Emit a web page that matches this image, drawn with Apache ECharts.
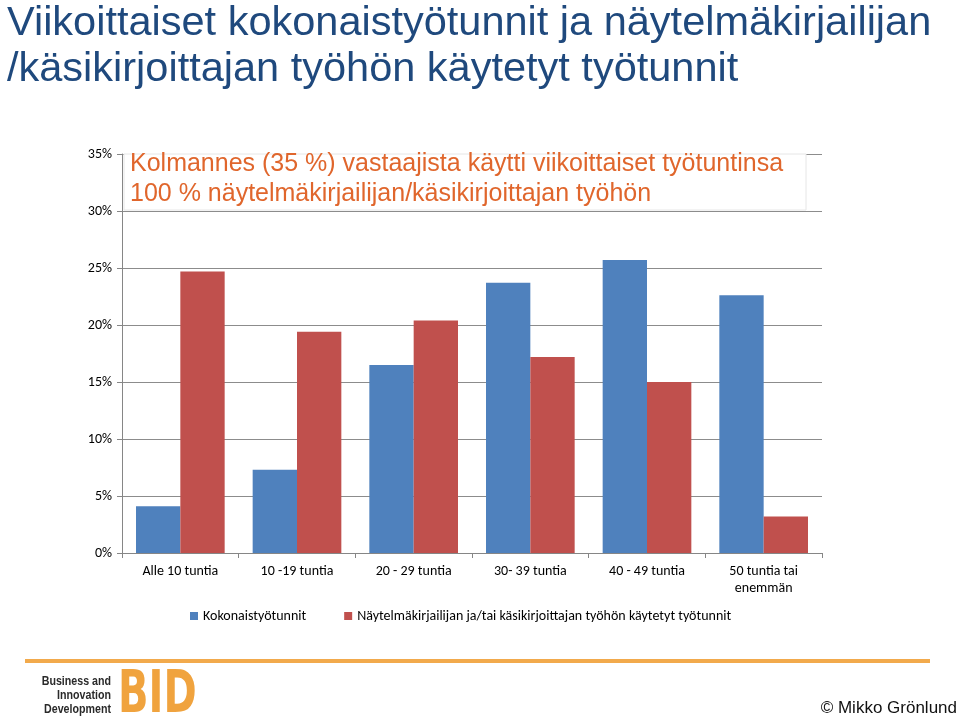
<!DOCTYPE html>
<html>
<head>
<meta charset="utf-8">
<script src="https://cdn.jsdelivr.net/npm/echarts@6/dist/echarts.min.js"></script>
<style>
html,body{margin:0;padding:0;background:#fff;}
#chart{width:960px;height:719px;}
</style>
</head>
<body>
<div id="chart"></div>
<script>
const categories = ['Alle 10 tuntia', '10 -19 tuntia', '20 - 29 tuntia', '30- 39 tuntia', '40 - 49 tuntia', '50 tuntia tai\nenemmän'];
const totalHours = [4.1, 7.3, 16.5, 23.7, 25.7, 22.6];
const writingHours = [24.7, 19.4, 20.4, 17.2, 15.0, 3.2];
const seriesNames = ['Kokonaistyötunnit', 'Näytelmäkirjailijan ja/tai käsikirjoittajan työhön käytetyt työtunnit'];
const titleText = 'Viikoittaiset kokonaistyötunnit ja näytelmäkirjailijan\n/käsikirjoittajan työhön käytetyt työtunnit';
const noteText = 'Kolmannes (35 %) vastaajista käytti viikoittaiset työtuntinsa\n100 % näytelmäkirjailijan/käsikirjoittajan työhön';

const chart = echarts.init(document.getElementById('chart'));
const labelFont = 'Carlito, Lato, "Open Sans", sans-serif';
chart.setOption({
  backgroundColor: '#ffffff',
  animation: false,
  title: [
    {text: titleText, left: 2, top: -4,
     textStyle: {fontFamily: '"Liberation Sans", Arial, sans-serif', fontSize: 41.5, lineHeight: 46, fontWeight: 'normal', color: '#1F497D'}},
    {text: noteText, left: 125, top: 144, z: 5,
     textStyle: {fontFamily: '"Liberation Sans", Arial, sans-serif', fontSize: 25, lineHeight: 30, fontWeight: 'normal', color: '#E0662C'}}
  ],
  grid: {left: 122, right: 138, top: 154, bottom: 166},
  legend: {
    left: 185, top: 604,
    itemWidth: 8, itemHeight: 8, itemGap: 38,
    icon: 'rect',
    textStyle: {fontFamily: labelFont, fontSize: 14, color: '#000'},
    data: seriesNames
  },
  xAxis: {
    type: 'category',
    data: categories,
    axisLine: {lineStyle: {color: '#868686'}},
    axisTick: {show: true, length: 5, lineStyle: {color: '#868686'}},
    axisLabel: {fontFamily: labelFont, fontSize: 14, color: '#000', margin: 10, lineHeight: 17, interval: 0}
  },
  yAxis: {
    type: 'value', min: 0, max: 35, interval: 5,
    axisLine: {show: true, lineStyle: {color: '#868686'}},
    axisTick: {show: true, length: 5, lineStyle: {color: '#868686'}},
    splitLine: {lineStyle: {color: '#8c8c8c'}},
    axisLabel: {formatter: '{value}%', fontFamily: labelFont, fontSize: 14, color: '#000', margin: 10}
  },
  series: [
    {name: seriesNames[0], type: 'bar', data: totalHours, barGap: '0%', barCategoryGap: '24%',
     itemStyle: {color: '#4F81BD'}},
    {name: seriesNames[1], type: 'bar', data: writingHours,
     itemStyle: {color: '#C0504D'}}
  ],
  graphic: [
    {type: 'rect', z: 1, shape: {x: 124, y: 154, width: 682, height: 56},
     style: {fill: '#ffffff', stroke: '#e6e6e6', lineWidth: 1}},
    {type: 'rect', shape: {x: 25, y: 659, width: 905, height: 4},
     style: {fill: '#F2AA4C'}},
    {type: 'text', x: 111, y: 674, scaleX: 0.82, originX: 0, originY: 0,
     style: {text: 'Business and\nInnovation\nDevelopment', align: 'right', verticalAlign: 'top',
             font: 'bold 13px "Liberation Sans", Arial, sans-serif', lineHeight: 14, fill: '#2a2a2a'}},
    {type: 'text', x: 118, y: 668, scaleX: 0.69, originX: 0, originY: 0,
     style: {text: 'BID', align: 'left', verticalAlign: 'top',
             font: 'bold 58px "DejaVu Sans", sans-serif', fill: '#F0A33E'}},
    {type: 'text', x: 957, y: 708,
     style: {text: '© Mikko Grönlund', align: 'right', verticalAlign: 'middle',
             font: '17px "Liberation Sans", Arial, sans-serif', fill: '#111'}}
  ]
});
</script>
</body>
</html>
